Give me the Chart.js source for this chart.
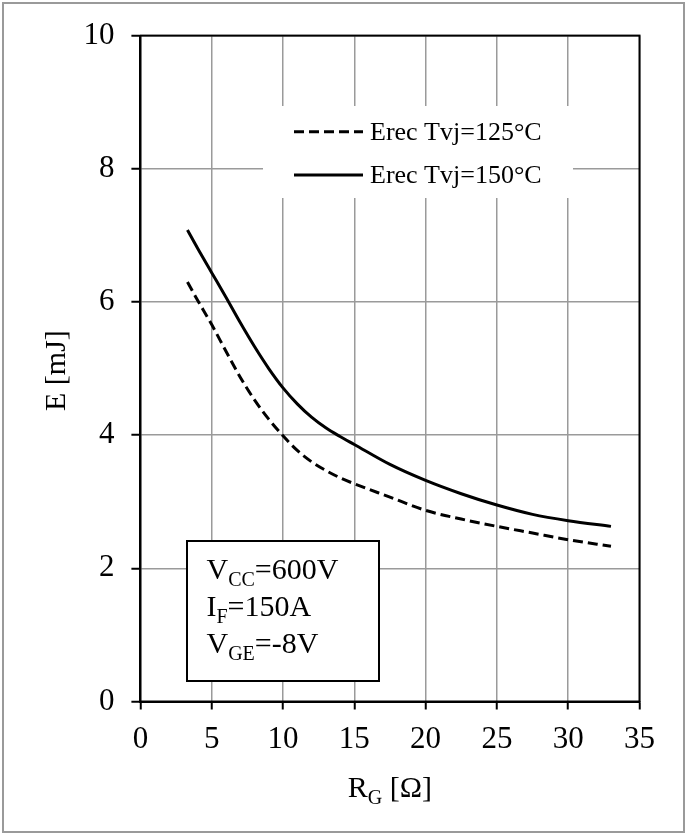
<!DOCTYPE html>
<html>
<head>
<meta charset="utf-8">
<script src="https://cdn.jsdelivr.net/npm/chart.js@4.4.1/dist/chart.umd.min.js"></script>
<style>
html, body { margin: 0; padding: 0; background: #ffffff; }
#wrap { position: relative; width: 694px; height: 834px; }
</style>
</head>
<body>
<div id="wrap"><canvas id="erecChart" width="694" height="834"></canvas></div>
<script>
const rg125 = [3.3, 4, 5, 6, 7, 8, 9, 10, 11, 12, 13, 14, 15, 17.5, 20, 22.5, 25, 27.5, 30, 33];
const erec125 = [6.30, 6.03, 5.66, 5.26, 4.87, 4.53, 4.24, 3.99, 3.77, 3.60, 3.47, 3.36, 3.27, 3.07, 2.87, 2.74, 2.63, 2.53, 2.43, 2.33];
const rg150 = [3.3, 4, 5, 6, 7, 8, 9, 10, 11, 12, 13, 14, 15, 17.5, 20, 22.5, 25, 27.5, 30, 33];
const erec150 = [7.08, 6.81, 6.44, 6.07, 5.69, 5.33, 5.00, 4.71, 4.47, 4.27, 4.11, 3.98, 3.86, 3.56, 3.32, 3.12, 2.95, 2.81, 2.715, 2.63];
const seriesLabels = ['Erec Tvj=125°C', 'Erec Tvj=150°C'];
const xRange = [0, 35], xStep = 5;
const yRange = [0, 10], yStep = 2;
const condLines = [['V', 'CC', '=600V'], ['I', 'F', '=150A'], ['V', 'GE', '=-8V']];

const SERIF = "'Times New Roman', 'Liberation Serif', serif";

function toPoints(xs, ys) {
return xs.map(function(x, i) { return { x: x, y: ys[i] }; });
}

function drawSub(ctx, x, y, parts, big, small) {
ctx.font = big + 'px ' + SERIF;
ctx.fillText(parts[0], x, y);
x += ctx.measureText(parts[0]).width;
ctx.font = small + 'px ' + SERIF;
ctx.fillText(parts[1], x, y + 7);
x += ctx.measureText(parts[1]).width;
ctx.font = big + 'px ' + SERIF;
ctx.fillText(parts[2], x, y);
return x + ctx.measureText(parts[2]).width;
}

const decorPlugin = {
id: 'decor',
beforeDraw: function(chart) {
const ctx = chart.ctx;
ctx.save();
ctx.fillStyle = '#ffffff';
ctx.fillRect(0, 0, chart.width, chart.height);
ctx.strokeStyle = '#9a9a9a';
ctx.lineWidth = 2;
ctx.strokeRect(3, 3, 681, 829);
ctx.restore();
},
afterDraw: function(chart) {
const ctx = chart.ctx;
const a = chart.chartArea;
ctx.save();
ctx.strokeStyle = '#000000';
ctx.lineWidth = 2;
ctx.strokeRect(a.left, a.top, a.right - a.left, a.bottom - a.top);

// legend
ctx.fillStyle = '#ffffff';
ctx.fillRect(263, 106, 310, 92);
const rows = [131.7, 175];
chart.data.datasets.forEach(function(ds, i) {
ctx.strokeStyle = ds.borderColor;
ctx.lineWidth = ds.borderWidth;
ctx.setLineDash(ds.borderDash || []);
ctx.beginPath();
ctx.moveTo(294, rows[i]);
ctx.lineTo(363, rows[i]);
ctx.stroke();
ctx.setLineDash([]);
ctx.fillStyle = '#000000';
ctx.font = '26px ' + SERIF;
ctx.textBaseline = 'alphabetic';
ctx.textAlign = 'left';
ctx.fillText(ds.label, 370, rows[i] + 8);
});

// conditions box
ctx.fillStyle = '#ffffff';
ctx.fillRect(187, 541, 192, 140);
ctx.strokeStyle = '#000000';
ctx.lineWidth = 2;
ctx.strokeRect(187, 541, 192, 140);
ctx.fillStyle = '#000000';
ctx.textAlign = 'left';
ctx.textBaseline = 'alphabetic';
condLines.forEach(function(p, i) {
drawSub(ctx, 206.5, 579 + i * 37, p, 30, 20);
});

// axis titles
const cx = (a.left + a.right) / 2;
ctx.font = '30px ' + SERIF;
const w1 = ctx.measureText('R').width + ctx.measureText(' [Ω]').width;
ctx.font = '20px ' + SERIF;
const w2 = ctx.measureText('G').width;
drawSub(ctx, cx - (w1 + w2) / 2, 797, ['R', 'G', ' [Ω]'], 30, 20);

ctx.translate(65, (a.top + a.bottom) / 2 + 2);
ctx.rotate(-Math.PI / 2);
ctx.font = '30px ' + SERIF;
ctx.textAlign = 'center';
ctx.fillText('E [mJ]', 0, 0);
ctx.restore();
}
};

function initChart() {
const ctx = document.getElementById('erecChart').getContext('2d');
window.erecChart = new Chart(ctx, {
type: 'line',
data: { datasets: [
{ label: seriesLabels[0], data: toPoints(rg125, erec125), borderColor: '#000000', borderWidth: 3, borderDash: [10, 5], pointRadius: 0, fill: false, cubicInterpolationMode: 'monotone' },
{ label: seriesLabels[1], data: toPoints(rg150, erec150), borderColor: '#000000', borderWidth: 3, pointRadius: 0, fill: false, cubicInterpolationMode: 'monotone' }
] },
options: {
responsive: false, animation: false, devicePixelRatio: 1,
layout: { padding: { left: 0, top: 33.5, right: 54.5, bottom: 0 } },
plugins: { legend: { display: false }, tooltip: { enabled: false } },
scales: {
x: {
type: 'linear', min: xRange[0], max: xRange[1],
afterFit: function(s) { s.height = 132.5; },
border: { color: '#000000', width: 2 },
grid: { color: '#9a9a9a', lineWidth: 1.5, tickColor: '#000000', tickLength: 8, tickWidth: 2 },
ticks: { stepSize: xStep, padding: 12, color: '#000000', font: { family: SERIF, size: 31 }, maxRotation: 0 }
},
y: {
type: 'linear', min: yRange[0], max: yRange[1],
afterFit: function(s) { s.width = 140.4; },
border: { color: '#000000', width: 2 },
grid: { color: '#9a9a9a', lineWidth: 1.5, tickColor: '#000000', tickLength: 9, tickWidth: 2 },
ticks: { stepSize: yStep, padding: 17, color: '#000000', font: { family: SERIF, size: 31 } }
}
}
},
plugins: [decorPlugin]
});
}

initChart();
</script>
</body>
</html>
